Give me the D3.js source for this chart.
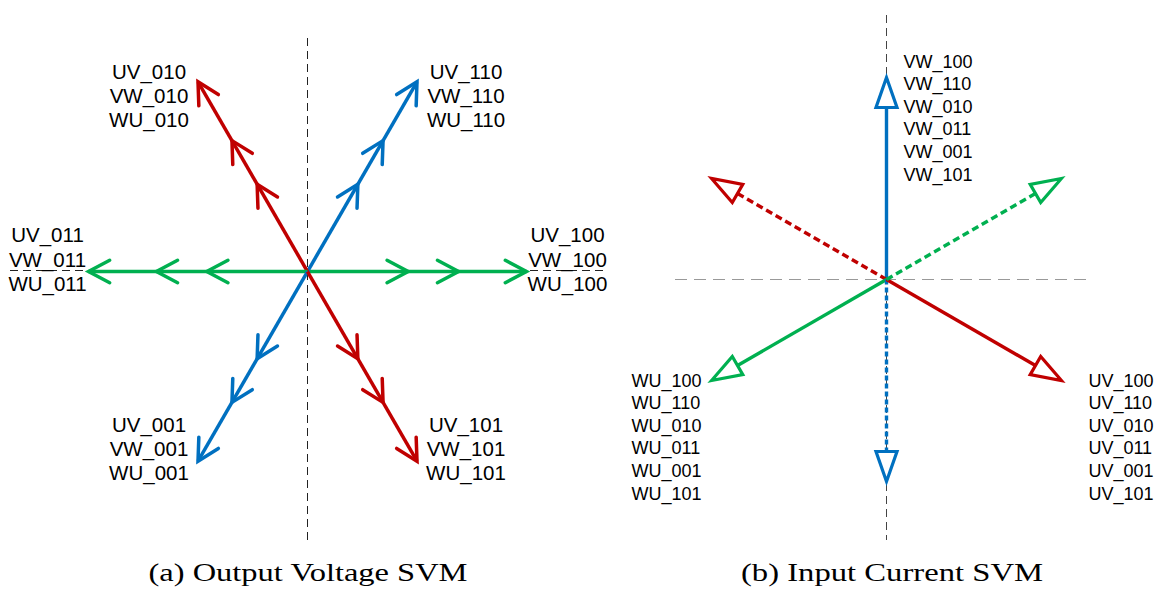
<!DOCTYPE html>
<html>
<head>
<meta charset="utf-8">
<script src="https://cdn.jsdelivr.net/npm/d3@7"></script>
<style>
  body { margin: 0; background: #fff; }
  svg { display: block; }
</style>
</head>
<body>
<svg id="svg"></svg>
<script>
// switching states, in the order the label stacks list them
const codes = ['100', '110', '010', '011', '001', '101'];

// (a) output voltage vectors, degrees counter-clockwise from +x
const vAngles = [0, 60, 120, 180, 240, 300];
const vCodes = ['100', '110', '010', '011', '001', '101'];
const vColors = ['#00B050', '#0070C0', '#C00000', '#00B050', '#0070C0', '#C00000'];
const vHeads = [0.46, 0.69, 1];            // where the open arrowheads sit (fraction of length)
const vPrefix = ['UV', 'VW', 'WU'];

// (b) input current vectors
const iAngles = [90, 150, 210, 270, 330, 30];
const iColors = ['#0070C0', '#C00000', '#00B050', '#0070C0', '#C00000', '#00B050'];
const iDashed = [false, true, false, true, false, true];
const iPrefix = ['VW', null, 'WU', null, 'UV', null];

const captions = ['(a) Output Voltage SVM', '(b) Input Current SVM'];

const w = 1155, h = 589;
const svg = d3.select('#svg').attr('width', w).attr('height', h);

const rad = a => a * Math.PI / 180;
function pt(c, r, a) { return [c[0] + r * Math.cos(rad(a)), c[1] - r * Math.sin(rad(a))]; }

//---------------- (a) output voltage ----------------
const cA = [307.5, 271.5];
const rA = d3.scaleLinear().domain([0, 1]).range([0, 219]);
const gA = svg.append('g');

// axes (horizontal one sits under the green vector, only its ends show)
gA.append('line').attr('x1', 10).attr('x2', 605).attr('y1', cA[1] - 1).attr('y2', cA[1] - 1)
  .attr('stroke', '#222').attr('stroke-width', 1).attr('stroke-dasharray', '8,5');
gA.append('line').attr('x1', cA[0]).attr('x2', cA[0]).attr('y1', 38).attr('y2', 545)
  .attr('stroke', '#222').attr('stroke-width', 1).attr('stroke-dasharray', '8,5');

const vData = vAngles.map((a, i) => ({ a, code: vCodes[i], color: vColors[i] }));

const vg = gA.selectAll('g.vec').data(vData).enter().append('g').attr('class', 'vec');
vg.append('line')
  .attr('x1', cA[0]).attr('y1', cA[1])
  .attr('x2', d => pt(cA, rA(1), d.a)[0])
  .attr('y2', d => pt(cA, rA(1), d.a)[1])
  .attr('stroke', d => d.color).attr('stroke-width', 3.5);

// chevron heads
const armL = 24, half = 28;
vg.selectAll('path')
  .data(d => vHeads.map(f => ({ f, a: d.a, color: d.color })))
  .enter().append('path')
  .attr('d', d => {
    const p = pt(cA, rA(d.f), d.a);
    const e1 = pt(p, -armL, d.a + half), e2 = pt(p, -armL, d.a - half);
    return `M${e1[0]},${e1[1]}L${p[0]},${p[1]}L${e2[0]},${e2[1]}`;
  })
  .attr('fill', 'none').attr('stroke', d => d.color).attr('stroke-width', 3.5)
  .attr('stroke-linecap', 'round').attr('stroke-linejoin', 'miter');

// label stacks
const lineA = 24.3;
vg.append('text')
  .attr('font-family', '"Liberation Sans", Arial, sans-serif')
  .attr('font-size', 20.5).attr('fill', '#000').attr('text-anchor', 'middle')
  .each(function (d) {
    const t = pt(cA, rA(1), d.a);
    const c = Math.cos(rad(d.a)), s = Math.sin(rad(d.a));
    const lx = t[0] + Math.sign(c) * (Math.abs(c) > 0.9 ? 41 : 49);
    const ly = s > 0.5 ? t[1] - 3 : t[1] - 5 - lineA;
    d3.select(this).selectAll('tspan').data(vPrefix).enter().append('tspan')
      .attr('x', lx).attr('y', (p, i) => ly + i * lineA)
      .text(p => `${p}_${d.code}`);
  });

//---------------- (b) input current ----------------
const cB = [886.5, 279.5];
const rB = d3.scaleLinear().domain([0, 1]).range([0, 202]);
const gB = svg.append('g');

gB.append('line').attr('x1', 675).attr('x2', 1087).attr('y1', cB[1]).attr('y2', cB[1])
  .attr('stroke', '#999').attr('stroke-width', 1.2).attr('stroke-dasharray', '12,7');
gB.append('line').attr('x1', cB[0]).attr('x2', cB[0]).attr('y1', 15).attr('y2', 540)
  .attr('stroke', '#444').attr('stroke-width', 1).attr('stroke-dasharray', '8,5');

const iData = iAngles.map((a, i) => ({ a, color: iColors[i], dashed: iDashed[i], prefix: iPrefix[i] }));
const headH = 30, headW = 10.5;

const ig = gB.selectAll('g.vec').data(iData).enter().append('g').attr('class', 'vec');
ig.append('line')
  .attr('x1', cB[0]).attr('y1', cB[1])
  .attr('x2', d => pt(cB, rB(1) - headH, d.a)[0])
  .attr('y2', d => pt(cB, rB(1) - headH, d.a)[1])
  .attr('stroke', d => d.color).attr('stroke-width', 3.4)
  .attr('stroke-dasharray', d => d.dashed ? (d.a === 270 ? '5,3' : '7,4') : null);

ig.append('path')
  .attr('d', d => {
    const tip = pt(cB, rB(1), d.a);
    const base = pt(cB, rB(1) - headH, d.a);
    const b1 = pt(base, headW, d.a + 90), b2 = pt(base, headW, d.a - 90);
    return `M${tip[0]},${tip[1]}L${b1[0]},${b1[1]}L${b2[0]},${b2[1]}Z`;
  })
  .attr('fill', '#fff').attr('stroke', d => d.color).attr('stroke-width', 3.2)
  .attr('stroke-linejoin', 'miter');

const lineB = 22.6;
ig.filter(d => d.prefix).append('text')
  .attr('font-family', '"Liberation Sans", Arial, sans-serif')
  .attr('font-size', 18).attr('fill', '#000')
  .each(function (d) {
    const t = pt(cB, rB(1), d.a);
    let lx, ly;
    if (d.a === 90) { lx = t[0] + 17; ly = t[1] - 10; }
    else if (d.a === 210) { lx = t[0] - 80; ly = t[1] + 6; }
    else { lx = t[0] + 27; ly = t[1] + 6; }
    d3.select(this).selectAll('tspan').data(codes).enter().append('tspan')
      .attr('x', lx).attr('y', (c, i) => ly + i * lineB)
      .text(c => `${d.prefix}_${c}`);
  });

//---------------- captions ----------------
svg.selectAll('text.caption').data(captions).enter().append('text')
  .attr('class', 'caption')
  .attr('x', (d, i) => i === 0 ? 308 : 892)
  .attr('y', 581)
  .attr('text-anchor', 'middle')
  .attr('font-family', '"Liberation Serif", "Times New Roman", serif')
  .attr('font-size', 26)
  .attr('textLength', (d, i) => i === 0 ? 319 : 302)
  .attr('lengthAdjust', 'spacingAndGlyphs')
  .attr('fill', '#000')
  .text(d => d);
</script>
</body>
</html>
